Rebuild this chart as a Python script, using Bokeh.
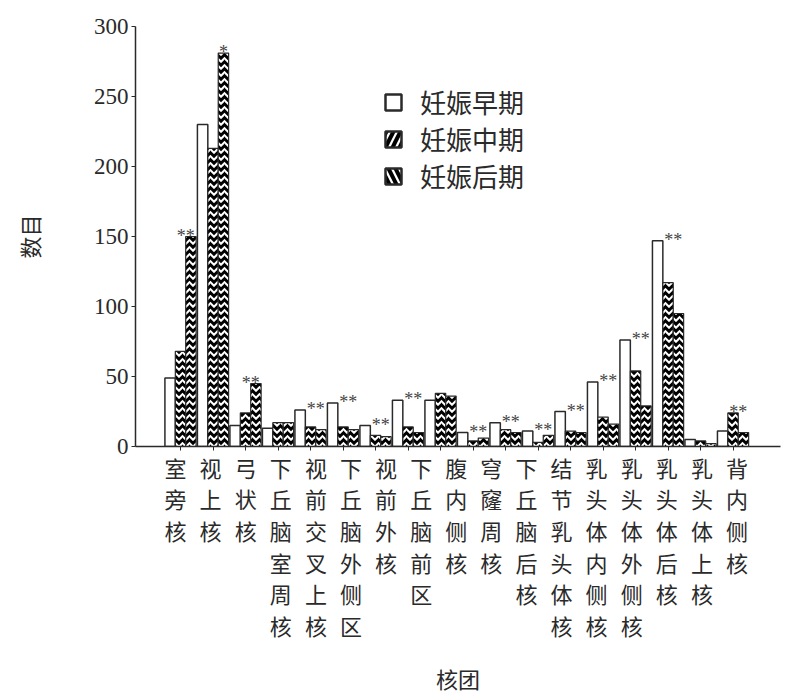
from bokeh.plotting import figure
from bokeh.models import (Range1d, LinearAxis, FixedTicker, ColumnDataSource,
                          Legend, LegendItem)
from bokeh.transform import dodge
from bokeh.core.properties import value
from bokeh.embed import file_html
from bokeh.resources import INLINE

# ---------------- data ----------------
nuclei = ["室旁核", "视上核", "弓状核", "下丘脑室周核", "视前交叉上核", "下丘脑外侧区",
          "视前外核", "下丘脑前区", "腹内侧核", "穹窿周核", "下丘脑后核", "结节乳头体核",
          "乳头体内侧核", "乳头体外侧核", "乳头体后核", "乳头体上核", "背内侧核"]
groups = list(range(1, 19))
early = [49, 230, 15, 13, 26, 31, 15, 33, 33, 10, 17, 11, 25, 46, 76, 147, 5, 11]
middle = [68, 213, 24, 17, 14, 14, 8, 14, 38, 4, 12, 3, 11, 21, 54, 117, 4, 24]
late = [150, 281, 45, 17, 12, 12, 7, 10, 36, 6, 10, 8, 10, 16, 29, 95, 2, 10]
marks = ["**", "*", "**", "", "**", "**", "**", "**", "", "**", "**", "**", "**",
         "**", "**", "**", "", "**"]
series_names = ["妊娠早期", "妊娠中期", "妊娠后期"]
y_ticks = [0, 50, 100, 150, 200, 250, 300]

CJK = "Noto Sans CJK SC"
SERIF = "Liberation Serif"
INK = "#2a2a2a"
BW = 0.32
NAN = float("nan")

p = figure(frame_width=645, frame_height=420,
           x_range=Range1d(-0.385, 19.46), y_range=Range1d(0, 300),
           output_backend="svg", toolbar_location=None,
           min_border_left=135, min_border_top=26, min_border_right=6,
           min_border_bottom=0)
p.outline_line_color = None
p.grid.visible = False
p.background_fill_color = "white"

# main x axis: ticks only
xa = p.xaxis[0]
xa.ticker = FixedTicker(ticks=groups)
xa.major_label_text_font_size = "1px"
xa.major_label_text_alpha = 0
xa.major_label_standoff = 0
xa.major_tick_out = 4
xa.major_tick_in = 0
xa.minor_tick_line_color = None
xa.axis_line_width = 1.5
xa.axis_line_color = INK
xa.major_tick_line_color = INK

# label axis
p.extra_x_ranges = {"labels": Range1d(-1.14, 17.24)}
la = LinearAxis(x_range_name="labels",
                ticker=FixedTicker(ticks=list(range(len(nuclei)))),
                major_label_overrides={i: "\n".join(n) for i, n in enumerate(nuclei)})
la.axis_line_color = None
la.major_tick_line_color = None
la.minor_tick_line_color = None
la.major_tick_out = 0
la.major_tick_in = 0
la.major_label_standoff = 0
la.major_label_text_font = CJK
la.major_label_text_font_size = "22px"
la.major_label_text_line_height = 0.99
la.major_label_text_color = INK
la.axis_label = "核团"
la.axis_label_text_font = CJK
la.axis_label_text_font_style = "normal"
la.axis_label_text_font_size = "22px"
la.axis_label_text_color = INK
la.axis_label_standoff = 18
p.add_layout(la, "below")

# y axis
ya = p.yaxis[0]
ya.ticker = FixedTicker(ticks=y_ticks)
ya.major_tick_out = 4
ya.major_tick_in = 0
ya.minor_tick_line_color = None
ya.axis_line_width = 1.5
ya.axis_line_color = INK
ya.major_tick_line_color = INK
ya.major_label_text_font = SERIF
ya.major_label_text_font_size = "23px"
ya.major_label_text_color = INK
ya.major_label_standoff = 3
ya.axis_label = "数目"
ya.axis_label_text_font = CJK
ya.axis_label_text_font_style = "normal"
ya.axis_label_text_font_size = "22px"
ya.axis_label_text_color = INK
ya.axis_label_standoff = 46

# bars
src = ColumnDataSource(dict(g=groups, early=early, middle=middle, late=late))
p.vbar(x=dodge("g", -BW), top="early", width=BW, source=src,
       fill_color="white", line_color=INK, line_width=1.5)
p.vbar(x=dodge("g", 0), top="middle", width=BW, source=src,
       fill_color="black", line_color=INK, line_width=1.2,
       hatch_pattern="horizontal_wave", hatch_color="white",
       hatch_scale=7, hatch_weight=2)
p.vbar(x=dodge("g", BW), top="late", width=BW, source=src,
       fill_color="black", line_color=INK, line_width=1.2,
       hatch_pattern="horizontal_wave", hatch_color="white",
       hatch_scale=7, hatch_weight=2)

# significance marks
mx = [g + (BW if m == "*" else BW / 2) for g, m in zip(groups, marks)]
my = [max(a, b, c) for a, b, c in zip(early, middle, late)]
msrc = ColumnDataSource(dict(x=mx, y=my, t=marks))
p.text(x="x", y="y", text="t", source=msrc, text_align="center",
       text_baseline="alphabetic", y_offset=-1,
       text_font=value(SERIF), text_font_size="18px", text_color="#444")

# legend swatches (non-drawn renderers carrying the swatch style)
dummy = ColumnDataSource(dict(x=[NAN], y=[NAN]))
s1 = p.rect(x="x", y="y", width=1, height=1, source=dummy,
            fill_color="white", line_color=INK, line_width=2.5)
s2 = p.rect(x="x", y="y", width=1, height=1, source=dummy,
            fill_color="white", line_color=INK, line_width=2.5,
            hatch_pattern="right_diagonal_line", hatch_color="black",
            hatch_scale=14, hatch_weight=4)
s3 = p.rect(x="x", y="y", width=1, height=1, source=dummy,
            fill_color="white", line_color=INK, line_width=2.5,
            hatch_pattern="left_diagonal_line", hatch_color="black",
            hatch_scale=14, hatch_weight=4)
legend = Legend(items=[LegendItem(label=series_names[0], renderers=[s1]),
                       LegendItem(label=series_names[1], renderers=[s2]),
                       LegendItem(label=series_names[2], renderers=[s3])],
                location=(248, 252), orientation="vertical",
                border_line_color=None, background_fill_alpha=0,
                padding=0, margin=0, spacing=0,
                glyph_width=20, glyph_height=20, label_height=20,
                label_standoff=17,
                label_text_font=CJK, label_text_font_size="26px",
                label_text_line_height=0.85,
                label_text_color=INK)
p.add_layout(legend)

open("out.html", "w").write(file_html(p, INLINE))
